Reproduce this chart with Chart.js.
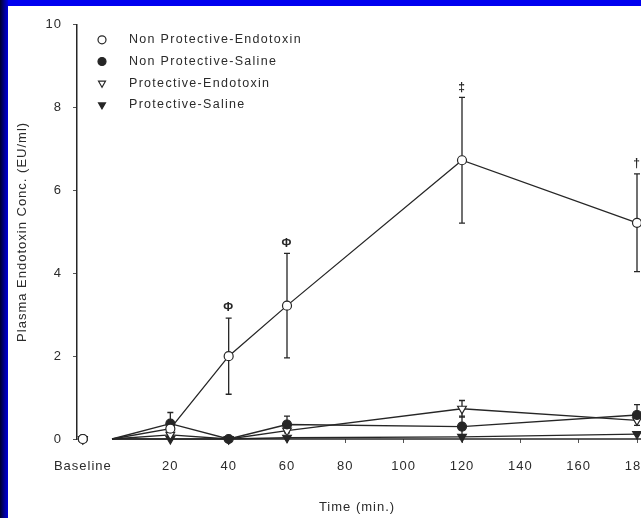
<!DOCTYPE html>
<html>
<head>
<meta charset="utf-8">
<script src="https://cdn.jsdelivr.net/npm/chart.js@4.4.1/dist/chart.umd.min.js"></script>
<style>
  html, body { margin: 0; padding: 0; overflow: hidden; }
  body { width: 641px; height: 518px; background: #0000f0; position: relative; }
  #side { position: absolute; left: 0; top: 0; width: 8px; height: 518px;
          background: linear-gradient(to right, #00002a, #0000a0 5px, #0000d8); }
  #frame { position: absolute; left: 8px; top: 6px; width: 700px; height: 512px; background: #fff; }
  #plot { position: absolute; left: 0; top: 0; }
</style>
</head>
<body>
<div id="side"></div>
<div id="frame"><canvas id="plot" width="680" height="512"></canvas></div>
<script>
// sampling times in minutes, -10 stands for the baseline draw
let times = [-10, 0, 20, 40, 60, 120, 180];
let xTicks = [-10, 20, 40, 60, 80, 100, 120, 140, 160, 180];
let yTicks = [0, 2, 4, 6, 8, 10];

let npEndotoxin = [0, 0, 0.25, 2.0, 3.22, 6.73, 5.22];
let npEndotoxinErr = [0, 0, 0, 0.92, 1.26, 1.52, 1.18];
let npEndotoxinMarks = ['', '', '', '\u03A6', '\u03A6', '\u2021', '\u2020'];

let npSaline = [0, 0, 0.37, 0, 0.35, 0.3, 0.58];
let npSalineErr = [0, 0, 0.27, 0, 0.2, 0.25, 0.25];

let pEndotoxin = [0, 0, 0.1, 0, 0.2, 0.73, 0.45];
let pEndotoxinErr = [0, 0, 0, 0, 0, 0.2, 0];

let pSaline = [0, 0, 0, 0, 0.03, 0.05, 0.12];

let ink = '#262626';
let textInk = '#2b2b2b';
let fontFamily = '"Liberation Sans", Arial, sans-serif';
let spacing = '1px';

function makeSeries(label, values, errs, marks, style, fill, rotation) {
    return {
        label: label,
        data: times.map((t, i) => ({ x: t, y: values[i] })),
        errs: errs,
        marks: marks,
        borderColor: ink,
        borderWidth: 1.3,
        pointStyle: style,
        pointRotation: rotation,
        pointBackgroundColor: fill,
        pointBorderColor: ink,
        pointBorderWidth: 1.2,
        pointRadius: times.map(t => t === 0 ? 0 : (style === 'triangle' ? 5 : 4.5)),
        pointHoverRadius: 0,
        clip: false,
        // the baseline sample stands on its own, no line to time 0
        segment: {
            borderColor: ctx => ctx.p0DataIndex === 0 ? 'rgba(0,0,0,0)' : undefined
        }
    };
}

let datasets = [
    makeSeries('Non Protective-Endotoxin', npEndotoxin, npEndotoxinErr, npEndotoxinMarks, 'circle', '#ffffff', 0),
    makeSeries('Non Protective-Saline', npSaline, npSalineErr, null, 'circle', ink, 0),
    makeSeries('Protective-Endotoxin', pEndotoxin, pEndotoxinErr, null, 'triangle', '#ffffff', 180),
    makeSeries('Protective-Saline', pSaline, null, null, 'triangle', ink, 180)
];

// wide letter spacing for every label on the canvas
let spacedText = {
    id: 'spacedText',
    beforeInit(chart) { chart.ctx.letterSpacing = spacing; },
    beforeDraw(chart) { chart.ctx.letterSpacing = spacing; }
};

// error bars and significance marks, under the point markers
let errorBars = {
    id: 'errorBars',
    beforeDatasetsDraw(chart) {
        let ctx = chart.ctx;
        let xs = chart.scales.x, ys = chart.scales.y;
        ctx.save();
        ctx.strokeStyle = ink;
        ctx.fillStyle = ink;
        ctx.lineWidth = 1.3;
        chart.data.datasets.forEach(ds => {
            if (!ds.errs) return;
            ds.data.forEach((p, i) => {
                let e = ds.errs[i];
                if (!e) return;
                let x = xs.getPixelForValue(p.x);
                let top = ys.getPixelForValue(p.y + e);
                let bot = ys.getPixelForValue(Math.max(p.y - e, 0));
                ctx.beginPath();
                ctx.moveTo(x, top); ctx.lineTo(x, bot);
                ctx.moveTo(x - 3, top); ctx.lineTo(x + 3, top);
                ctx.moveTo(x - 3, bot); ctx.lineTo(x + 3, bot);
                ctx.stroke();
                if (ds.marks && ds.marks[i]) {
                    ctx.font = 'bold 12px ' + fontFamily;
                    ctx.textAlign = 'center';
                    ctx.textBaseline = 'middle';
                    ctx.fillText(ds.marks[i], x, top - 10);
                }
            });
        });
        ctx.restore();
    }
};

// x axis line starts at time 0, leaving the baseline apart
let brokenAxis = {
    id: 'brokenAxis',
    afterDraw(chart) {
        let ctx = chart.ctx;
        let xs = chart.scales.x, ys = chart.scales.y;
        let y = ys.getPixelForValue(0);
        ctx.save();
        ctx.strokeStyle = ink;
        ctx.lineWidth = 1.5;
        ctx.beginPath();
        ctx.moveTo(xs.getPixelForValue(0), y);
        ctx.lineTo(chart.width, y);
        ctx.stroke();
        ctx.restore();
    }
};

// legend in the upper left of the plot
let cornerLegend = {
    id: 'cornerLegend',
    afterDraw(chart) {
        let ctx = chart.ctx;
        let x0 = chart.chartArea.left + 25;
        let y0 = chart.chartArea.top + 15;
        ctx.save();
        chart.data.datasets.forEach((ds, i) => {
            let y = y0 + i * 21.7;
            ctx.fillStyle = ds.pointBackgroundColor;
            ctx.strokeStyle = ink;
            ctx.lineWidth = 1.2;
            Chart.helpers.drawPoint(ctx, {
                pointStyle: ds.pointStyle,
                rotation: ds.pointRotation,
                radius: 4,
                borderWidth: 1.2
            }, x0, y);
            ctx.fillStyle = textInk;
            ctx.font = '12.5px ' + fontFamily;
            ctx.letterSpacing = '1.3px';
            ctx.textAlign = 'left';
            ctx.textBaseline = 'middle';
            ctx.fillText(ds.label, x0 + 27, y);
        });
        ctx.restore();
    }
};

new Chart(document.getElementById('plot'), {
    type: 'line',
    data: { datasets: datasets },
    plugins: [spacedText, errorBars, brokenAxis, cornerLegend],
    options: {
        responsive: false,
        animation: false,
        devicePixelRatio: 1,
        layout: { padding: { top: 8, right: 51, left: 0, bottom: 0 } },
        plugins: {
            legend: { display: false },
            tooltip: { enabled: false }
        },
        scales: {
            x: {
                type: 'linear',
                min: -12,
                max: 180,
                afterFit: s => { s.height = 79; },
                afterBuildTicks: s => { s.ticks = xTicks.map(v => ({ value: v })); },
                border: { display: false },
                grid: {
                    drawOnChartArea: false,
                    tickLength: 4,
                    tickWidth: 1,
                    color: ctx => ctx.tick && ctx.tick.value === -10 ? 'rgba(0,0,0,0)' : '#555'
                },
                ticks: {
                    padding: 16,
                    maxRotation: 0,
                    autoSkip: false,
                    color: textInk,
                    font: { family: fontFamily, size: 13 },
                    callback: v => v === -10 ? 'Baseline' : String(v)
                },
                title: {
                    display: true,
                    text: 'Time (min.)',
                    color: textInk,
                    font: { family: fontFamily, size: 13 },
                    padding: { top: 0, bottom: 3 }
                }
            },
            y: {
                min: 0,
                max: 10,
                afterFit: s => { s.width = 69; },
                afterBuildTicks: s => { s.ticks = yTicks.map(v => ({ value: v })); },
                border: { display: true, color: ink, width: 1.5 },
                grid: {
                    drawOnChartArea: false,
                    tickLength: 4,
                    color: '#555'
                },
                ticks: {
                    padding: 11,
                    color: textInk,
                    font: { family: fontFamily, size: 13 }
                },
                title: {
                    display: true,
                    text: 'Plasma Endotoxin Conc. (EU/ml)',
                    color: textInk,
                    font: { family: fontFamily, size: 13 },
                    padding: { top: 7, bottom: 0 }
                }
            }
        }
    }
});
</script>
</body>
</html>
